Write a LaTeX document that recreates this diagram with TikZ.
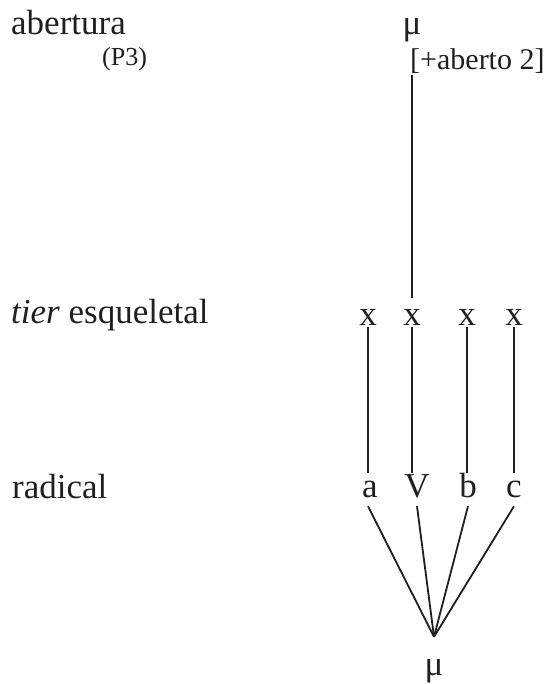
\documentclass[tikz,border=0pt]{standalone}
\usepackage{fontspec}
\setmainfont{Liberation Serif}
\begin{document}
\begin{tikzpicture}[x=1pt,y=1pt,
  big/.style={font=\fontsize{35}{40}\selectfont, inner sep=0pt, text=black!88},
  small/.style={font=\fontsize{26}{30}\selectfont, inner sep=0pt, text=black!88},
  feature/.style={font=\fontsize{30}{34}\selectfont, inner sep=0pt, text=black!88},
  slot/.style={big, anchor=base, text height=27pt, text depth=0pt},
  seg/.style={big, anchor=base, text height=24pt, text depth=9pt},
  ln/.style={line width=1.8pt, black!88}
]
\useasboundingbox (0,0) rectangle (550,-684);

% labels
\node[big, anchor=base west] (lab1) at (11,-35) {abertura};
\node[small, anchor=base west] (p3) at (102,-66) {(P3)};
\node[big, anchor=base west] (lab2) at (11,-323) {\textit{tier} esqueletal};
\node[big, anchor=base west] (lab3) at (12,-498) {radical};

% top
\node[big, anchor=base] (mutop) at (412,-35) {μ};
\node[feature, anchor=base west, text depth=5pt] (feat) at (410,-70) {[+aberto 2]};

% skeletal tier
\node[slot] (x1) at (368,-325) {x};
\node[slot] (x2) at (412,-325) {x};
\node[slot] (x3) at (467,-325) {x};
\node[slot] (x4) at (514,-325) {x};

% root tier
\node[seg] (a) at (370,-497) {a};
\node[seg] (v) at (417,-497) {V};
\node[seg] (b) at (468,-497) {b};
\node[seg] (c) at (514,-497) {c};

% bottom mu
\node[big, anchor=base, text height=38pt] (mubot) at (434,-675) {μ};

% connectors
\draw[ln] (x2.north) -- (x2.north |- feat.south);
\draw[ln] ([yshift=-2pt]x1.south) -- (x1.south |- a.north);
\draw[ln] ([yshift=-2pt]x2.south) -- (x2.south |- v.north);
\draw[ln] ([yshift=-2pt]x3.south) -- (x3.south |- b.north);
\draw[ln] ([yshift=-2pt]x4.south) -- (x4.south |- c.north);

\draw[ln] ([xshift=-2pt]a.south) -- (mubot.north);
\draw[ln] (v.south) -- (mubot.north);
\draw[ln] (b.south) -- (mubot.north);
\draw[ln] (c.south) -- (mubot.north);
\end{tikzpicture}
\end{document}
